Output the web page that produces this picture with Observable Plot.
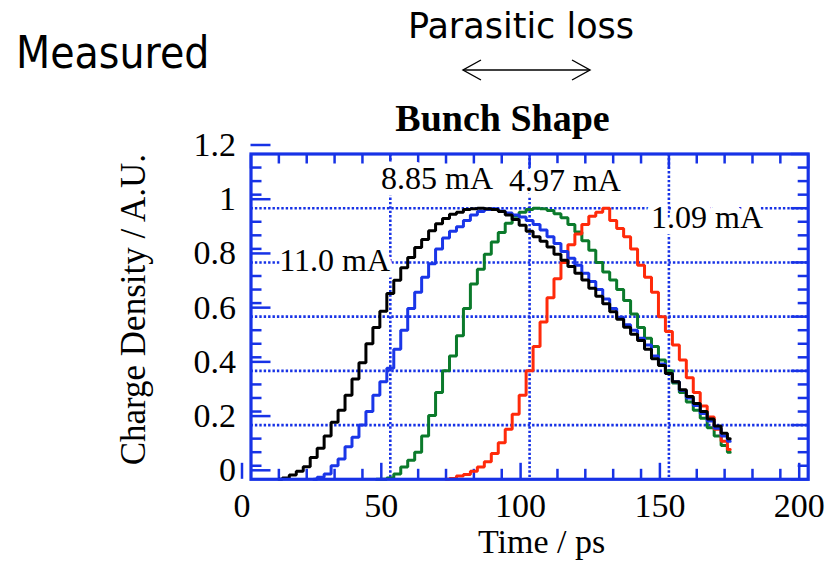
<!DOCTYPE html>
<html><head><meta charset="utf-8">
<script src="https://cdn.jsdelivr.net/npm/d3@7"></script>
<script src="https://cdn.jsdelivr.net/npm/@observablehq/plot@0.6"></script>
<style>
body{margin:0;background:#fff;}
#wrap{position:relative;width:830px;height:564px;overflow:hidden;}
#head{position:absolute;left:0;top:0;}
</style></head><body>
<div id="wrap"></div>
<script>
const time = [10,12.5,15,17.5,20,22.5,25,27.5,30,32.5,35,37.5,40,42.5,45,47.5,50,52.5,55,57.5,60,62.5,65,67.5,70,72.5,75,77.5,80,82.5,85,87.5,90,92.5,95,97.5,100,102.5,105,107.5,110,112.5,115,117.5,120,122.5,125,127.5,130,132.5,135,137.5,140,142.5,145,147.5,150,152.5,155,157.5,160,162.5,165,167.5,170,172];
const current110 = [0,0.005,0.016,0.03,0.046,0.08,0.115,0.16,0.21,0.255,0.31,0.37,0.43,0.5,0.56,0.62,0.685,0.734,0.78,0.818,0.855,0.885,0.917,0.943,0.962,0.978,0.985,0.995,0.998,1.0,0.998,0.995,0.988,0.975,0.958,0.937,0.915,0.895,0.878,0.857,0.83,0.808,0.785,0.76,0.735,0.705,0.675,0.648,0.618,0.59,0.561,0.535,0.512,0.48,0.445,0.42,0.39,0.36,0.33,0.305,0.28,0.25,0.222,0.197,0.17,0.15];
const current885 = [null,null,null,null,null,0,0.008,0.02,0.05,0.075,0.12,0.155,0.2,0.25,0.31,0.36,0.41,0.48,0.55,0.63,0.69,0.745,0.795,0.85,0.89,0.915,0.932,0.955,0.975,0.988,0.995,0.998,0.99,0.982,0.975,0.968,0.955,0.94,0.92,0.895,0.87,0.84,0.815,0.79,0.76,0.73,0.7,0.665,0.63,0.598,0.57,0.55,0.52,0.495,0.455,0.425,0.39,0.36,0.328,0.3,0.272,0.243,0.215,0.188,0.16,0.14];
const current497 = [null,null,null,null,null,null,null,null,null,null,null,null,null,null,0,0,0.005,0.02,0.045,0.07,0.1,0.16,0.235,0.32,0.4,0.455,0.53,0.63,0.72,0.775,0.83,0.875,0.91,0.945,0.97,0.985,0.995,1.0,0.998,0.992,0.98,0.965,0.94,0.912,0.88,0.845,0.8,0.765,0.735,0.7,0.66,0.61,0.56,0.52,0.49,0.44,0.4,0.355,0.32,0.285,0.255,0.225,0.19,0.16,0.125,0.1];
const current109 = [null,null,null,null,null,null,null,null,null,null,null,null,null,null,null,null,null,null,null,null,null,null,null,null,0,0.003,0.012,0.018,0.03,0.045,0.065,0.095,0.135,0.185,0.24,0.31,0.4,0.49,0.58,0.67,0.74,0.8,0.865,0.905,0.94,0.97,0.985,1.0,0.955,0.925,0.895,0.85,0.79,0.745,0.69,0.6,0.545,0.495,0.44,0.375,0.32,0.27,0.23,0.185,0.14,0.11];

const seriesNames = ["4.97 mA","1.09 mA","8.85 mA","11.0 mA"];
const seriesColors = ["#0b7a2b","#ff2a0a","#1a36e8","#000000"];
const seriesValues = [current497, current109, current885, current110];

const labelText = ["8.85 mA","4.97 mA","1.09 mA","11.0 mA"];
const labelX = [66.8, 112.7, 163.7, 30];
const labelY = [1.108, 1.10, 0.966, 0.807];

const xMajor = [0,50,100,150,200];
const xMinor = [10,20,30,40,60,70,80,90,110,120,130,140,160,170,180,190];
const yMajor = [0,0.2,0.4,0.6,0.8,1,1.2];
const yMinor = [0.05,0.1,0.15,0.25,0.3,0.35,0.45,0.5,0.55,0.65,0.7,0.75,0.85,0.9,0.95,1.05,1.1,1.15];
const xGrid = [50,100,150];
const yGrid = [0.2,0.4,0.6,0.8,1];

const rows = [];
seriesValues.forEach((vals, k) => {
  vals.forEach((v, i) => { if (v != null) rows.push({t: time[i], v, s: seriesNames[k]}); });
});
const labels = labelText.map((t, i) => ({t, x: labelX[i], y: labelY[i]}));

const BLUE = "#1732e6";
const SERIF = "'Liberation Serif','Times New Roman',serif";

const chart = Plot.plot({
  width: 830, height: 564,
  marginLeft: 250.5, marginRight: 22.3, marginTop: 153.5, marginBottom: 85.2,
  style: {background: "white", fontFamily: SERIF},
  x: {domain: [0, 200]},
  y: {domain: [0, 1.2]},
  color: {domain: seriesNames, range: seriesColors},
  marks: [
    Plot.gridX(xGrid, {stroke: BLUE, strokeOpacity: 1, strokeWidth: 2.6, strokeDasharray: "2.4,2"}),
    Plot.gridY(yGrid, {stroke: BLUE, strokeOpacity: 1, strokeWidth: 2.6, strokeDasharray: "2.4,2"}),
    Plot.axisX(xMinor, {anchor: "bottom", tickSize: -10, stroke: BLUE, strokeWidth: 2.5, tickFormat: () => "", label: null}),
    Plot.axisX(xMinor, {anchor: "top", tickSize: -9, stroke: BLUE, strokeWidth: 2.5, tickFormat: () => "", label: null}),
    Plot.axisX(xMajor, {anchor: "top", tickSize: -14, stroke: BLUE, strokeWidth: 2.5, tickFormat: () => "", label: null}),
    Plot.axisX(xMajor, {anchor: "bottom", tickSize: -16, stroke: BLUE, strokeWidth: 2.5, tickPadding: 30, fontSize: 34, fill: "black", dx: -9, tickFormat: d => String(d), label: null}),
    Plot.axisY(yMinor, {anchor: "left", tickSize: -11, stroke: BLUE, strokeWidth: 2.5, tickFormat: () => "", label: null}),
    Plot.axisY(yMinor, {anchor: "right", tickSize: -11, stroke: BLUE, strokeWidth: 2.5, tickFormat: () => "", label: null}),
    Plot.axisY(yMajor, {anchor: "right", tickSize: -18, stroke: BLUE, strokeWidth: 2.5, tickFormat: () => "", label: null}),
    Plot.axisY(yMajor, {anchor: "left", tickSize: -20, stroke: BLUE, strokeWidth: 2.5, tickPadding: 35, fontSize: 34, fill: "black", dy: -9, tickFormat: d => String(d), label: null}),
    Plot.text(labels, {x: "x", y: "y", text: "t", fontSize: 32, fontFamily: SERIF, fill: "black", stroke: "white", strokeWidth: 13, strokeLinejoin: "round", paintOrder: "stroke"}),
    Plot.line(rows, {x: "t", y: "v", z: "s", stroke: "s", curve: "step", strokeWidth: 3, strokeLinejoin: "miter"}),
    Plot.frame({stroke: BLUE, strokeWidth: 3.2}),
    Plot.text(["Time / ps"], {frameAnchor: "bottom", textAnchor: "middle", lineAnchor: "middle", dx: 12, dy: 63, fontSize: 34, fontFamily: SERIF, fill: "black"}),
    Plot.text(["Charge Density / A.U."], {frameAnchor: "left", textAnchor: "middle", lineAnchor: "middle", rotate: -90, dx: -117, dy: -7, fontSize: 35, fontFamily: SERIF, fill: "black"})
  ]
});

const wrap = document.getElementById("wrap");
wrap.appendChild(chart);

const head = document.createElementNS("http://www.w3.org/2000/svg", "svg");
head.setAttribute("id", "head");
head.setAttribute("width", 830);
head.setAttribute("height", 140);
head.innerHTML = `
  <text x="16" y="68" font-family="'DejaVu Sans',sans-serif" font-size="45" fill="black" transform="translate(16,0) scale(0.88,1) translate(-16,0)">Measured</text>
  <text x="521" y="38" text-anchor="middle" font-family="'DejaVu Sans',sans-serif" font-size="35" fill="black">Parasitic loss</text>
  <g stroke="black" stroke-width="1.4" fill="none">
    <line x1="463" y1="70" x2="590" y2="70"/>
    <polyline points="481,60 463,70 481,80"/>
    <polyline points="572,60 590,70 572,80"/>
  </g>
  <text x="502.5" y="131" text-anchor="middle" font-family="'Liberation Serif','Times New Roman',serif" font-weight="bold" font-size="38" fill="black">Bunch Shape</text>`;
wrap.appendChild(head);
</script>
</body></html>
